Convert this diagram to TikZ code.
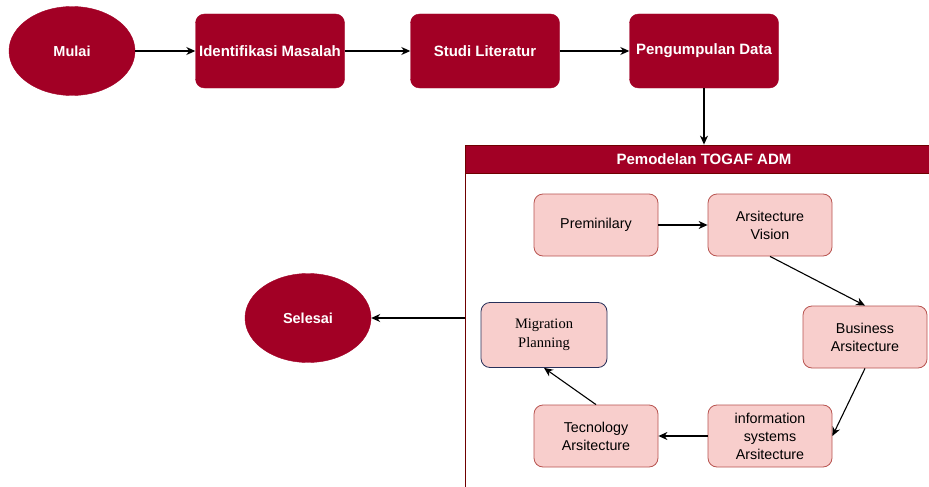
\documentclass[tikz,border=0pt]{standalone}
\usepackage{fontspec}
\setmainfont{Liberation Sans}
\newfontfamily\timesfont{Liberation Serif}
\usetikzlibrary{shapes.geometric,arrows.meta}
\definecolor{darkred}{HTML}{A20025}
\definecolor{darkredline}{HTML}{6F0000}
\definecolor{pinkfill}{HTML}{F8CECC}
\definecolor{pinkline}{HTML}{B85450}
\definecolor{navyline}{HTML}{27305A}
\tikzset{
  mainbox/.style={rectangle,rounded corners=9pt,fill=darkred,draw=darkred,text=white,
    minimum width=149pt,minimum height=74pt,inner sep=1pt,
    font=\fontsize{15}{18}\selectfont\bfseries},
  endpoint/.style={ellipse,fill=darkred,draw=darkred,text=white,
    minimum width=126pt,minimum height=89pt,inner sep=0pt,
    font=\fontsize{14.5}{17}\selectfont\bfseries},
  phase/.style={rectangle,rounded corners=9pt,fill=pinkfill,draw=pinkline,line width=0.8pt,
    minimum width=124pt,minimum height=62pt,inner sep=1pt,align=center,
    font=\fontsize{14.3}{18}\selectfont},
  flow/.style={->,>={Stealth[length=9pt,width=8pt]},line width=1.1pt,black}
}
\begin{document}
\begin{tikzpicture}[x=1pt,y=-1pt,node distance=174pt]
	\clip (0,0) rectangle (929,487);
	\fill[white] (0,0) rectangle (929,487);
	% Main flow
	\node [endpoint] (mulai) at (72,51) {Mulai};
	\node [mainbox,right of=mulai,node distance=198pt] (ident) {Identifikasi Masalah};
	\node [mainbox,right of=ident,node distance=215pt] (studi) {Studi Literatur};
	\node [mainbox,right of=studi,node distance=219pt] (kumpul) {Pengumpulan Data};
	
	% TOGAF container
	\node [rectangle,draw=darkredline,line width=0.8pt,minimum width=478pt,minimum height=350pt,inner sep=0pt] (togaf) at (704,320) {};
	\node [rectangle,fill=darkred,draw=darkredline,line width=0.8pt,anchor=north,minimum width=478pt,minimum height=28pt,text=white,
		font=\fontsize{15}{18}\selectfont\bfseries] (judul) at (togaf.north) {Pemodelan TOGAF ADM};
	
	\node [endpoint] (selesai) at (308,318) {Selesai};
	
	% ADM phases
	\node [phase] (prelim) at (596,225) {Preminilary};
	\node [phase,right of=prelim] (vision) {Arsitecture\\Vision};
	\node [phase] (bisnis) at (865,337) {Business\\Arsitecture};
	\node [phase,below of=vision,node distance=211pt] (infosys) {information\\systems\\Arsitecture};
	\node [phase,left of=infosys] (tekno) {Tecnology\\Arsitecture};
	\node [phase,draw=navyline,minimum width=126pt,minimum height=65pt,font=\timesfont\fontsize{14.5}{19}\selectfont] (migrasi) at (544,335) {Migration\\Planning};
	
	% Connectors
	\draw [flow] (mulai) -- (ident);
	\draw [flow] (ident) -- (studi);
	\draw [flow] (studi) -- (kumpul);
	\draw [flow] (kumpul.south) -- (judul.north);
	\draw [flow] (togaf.west |- selesai.east) -- (selesai.east);
	\draw [flow] (prelim) -- (vision);
	\draw [flow] (vision.south) -- (bisnis.north);
	\draw [flow] (bisnis.south) -- (infosys.east);
	\draw [flow] (infosys) -- (tekno);
	\draw [flow] (tekno.north) -- (migrasi.south);
\end{tikzpicture}
\end{document}
